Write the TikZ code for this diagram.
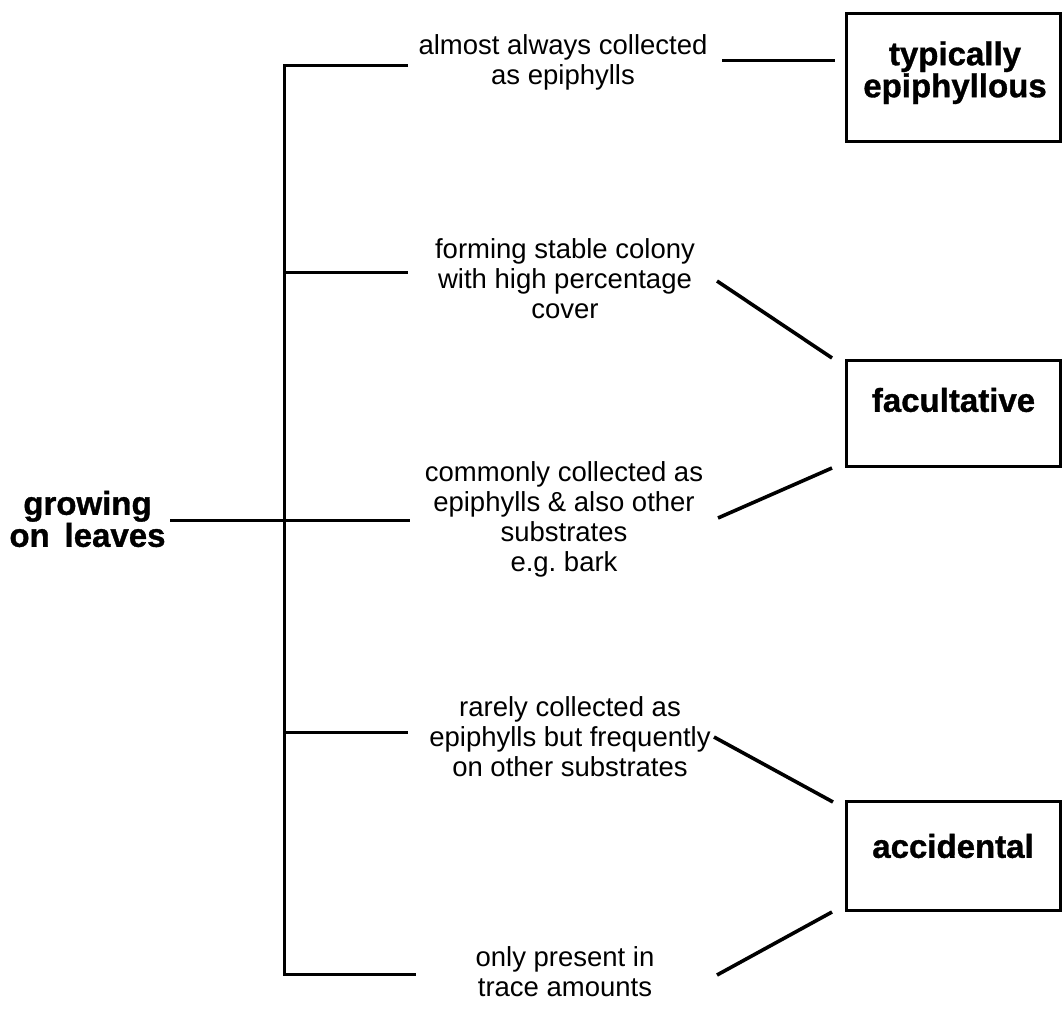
\documentclass[tikz,border=0pt]{standalone}
\usepackage{fontspec}
\setmainfont[BoldFeatures={FakeBold=1}]{Liberation Sans}
\begin{document}
\begin{tikzpicture}[x=1pt,y=-1pt,
  ln/.style={line width=3pt},
  diag/.style={line width=3.6pt},
  small/.style={font=\fontsize{27.5}{30}\selectfont, align=center, inner sep=0pt},
  big/.style={font=\bfseries\fontsize{33}{32}\selectfont, align=center, inner sep=0pt},
  box/.style={draw, line width=3pt, rectangle, inner sep=0pt, minimum width=214pt}
]
\useasboundingbox[fill=white] (0,0) rectangle (1064,1012);

% left label
\node[big] (grow) at (87.5,519) {growing\\on\hspace{0.45em}leaves};

% middle texts
\node[small] (t1) at (563,62) {almost always collected\\as epiphylls};
\node[small] (t2) at (565,279) {forming stable colony\\with high percentage\\cover};
\node[small] (t3) at (564,519) {commonly collected as\\epiphylls \& also other\\substrates\\e.g.\ bark};
\node[small] (t4) at (570,737) {rarely collected as\\epiphylls but frequently\\on other substrates};
\node[small] (t5) at (565,972) {only present in\\trace amounts};

% boxes
\node[box, minimum height=128pt] (typ) at (953.5,77.5) {};
\node[big] (typt) at (955,72.7) {typically\\epiphyllous};
\node[box, minimum height=106pt] (fac) at (953.5,413.5) {};
\node[big] (fact) at (953.5,400) {facultative};
\node[box, minimum height=109pt] (acc) at (953.5,856) {};
\node[big] (acct) at (953,846) {accidental};

% bracket coordinates
\coordinate (brtop) at (284,65);
\coordinate (brbot) at (284,974);
\coordinate (b1) at (408,65);
\coordinate (b2a) at (284,272);
\coordinate (b2) at (408,272);
\coordinate (b3a) at (170,520);
\coordinate (b3) at (410,520);
\coordinate (b4a) at (284,732);
\coordinate (b4) at (408,732);
\coordinate (b5) at (416,974);

\draw[ln] (b1) -- (brtop) -- (brbot) -- (b5);
\draw[ln] (b2a) -- (b2);
\draw[ln] (b3a) -- (b3);
\draw[ln] (b4a) -- (b4);

% right connectors
\coordinate (r1a) at (722,60);
\coordinate (r1b) at (835,60);
\coordinate (r2a) at (717,281);
\coordinate (r2b) at (832,358);
\coordinate (r3a) at (718,518);
\coordinate (r3b) at (832,468);
\coordinate (r4a) at (714,737);
\coordinate (r4b) at (833,802);
\coordinate (r5a) at (717,975);
\coordinate (r5b) at (832,912);

\draw[ln] (r1a) -- (r1b);
\draw[diag] (r2a) -- (r2b);
\draw[diag] (r3a) -- (r3b);
\draw[diag] (r4a) -- (r4b);
\draw[diag] (r5a) -- (r5b);
\end{tikzpicture}
\end{document}
